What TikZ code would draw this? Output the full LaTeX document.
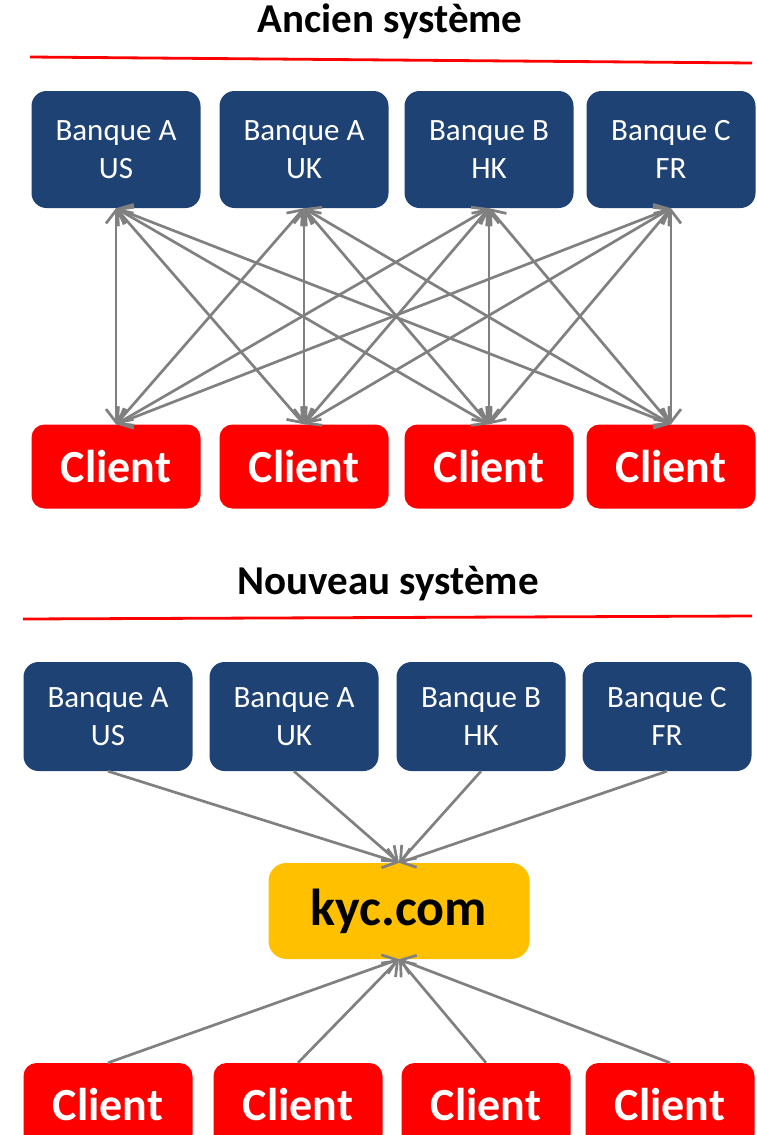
\documentclass[tikz,border=0pt]{standalone}
\usepackage{fontspec}
\setmainfont{Carlito}
\usepackage{xcolor}
\usepackage{tikz}
\usetikzlibrary{arrows.meta,positioning}

\definecolor{banknavy}{RGB}{30,66,116}
\definecolor{clientred}{RGB}{255,0,0}
\definecolor{kycgold}{RGB}{255,192,0}
\definecolor{linkgray}{RGB}{128,128,128}

\begin{document}
\begin{tikzpicture}[
  x=1pt, y=-1pt,
  bank/.style={fill=banknavy, rounded corners=15pt, minimum width=169pt,
    minimum height=117pt, inner sep=0pt, text=white, align=center,
    font=\fontsize{31}{38}\selectfont},
  client/.style={fill=clientred, rounded corners=13pt, minimum width=169pt,
    minimum height=84pt, inner sep=0pt, text=white,
    font=\fontsize{46}{50}\selectfont\bfseries},
  hub/.style={fill=kycgold, rounded corners=18pt, minimum width=261pt,
    minimum height=96pt, inner sep=0pt, font=\fontsize{52}{56}\selectfont\bfseries},
  title/.style={font=\fontsize{41}{44}\selectfont\bfseries},
  rule/.style={red, line width=2.8pt},
  link/.style={linkgray, line width=2.7pt, -{Straight Barb[length=13pt,width=20pt]}},
  dlink/.style={link, {Straight Barb[length=13pt,width=20pt]}-{Straight Barb[length=13pt,width=20pt]}}
]
\useasboundingbox (0,0) rectangle (756,1135);

% Ancien systeme
\node[title] (T1) at (390,21) {Ancien système};
\draw[rule] (30,57) -- (752,63);
\node[bank] (OB1) at (116,149.5) {Banque A\\US};
\node[bank] (OB2) at (304,149.5) {Banque A\\UK};
\node[bank] (OB3) at (489,149.5) {Banque B\\HK};
\node[bank] (OB4) at (671,149.5) {Banque C\\FR};
\node[client] (OC1) at (116,466.5) {Client};
\node[client] (OC2) at (304,466.5) {Client};
\node[client] (OC3) at (489,466.5) {Client};
\node[client] (OC4) at (671,466.5) {Client};
\foreach \b in {OB1,OB2,OB3,OB4}
  \foreach \c in {OC1,OC2,OC3,OC4}
    \draw[dlink] (\b.south) -- (\c.north);

% Nouveau systeme
\node[title] (T2) at (388,584) {Nouveau système};
\draw[rule] (23,619) -- (752,616);
\node[bank, minimum height=109pt] (NB1) at (108,716.5) {Banque A\\US};
\node[bank, minimum height=109pt] (NB2) at (294,716.5) {Banque A\\UK};
\node[bank, minimum height=109pt] (NB3) at (481,716.5) {Banque B\\HK};
\node[bank, minimum height=109pt] (NB4) at (667,716.5) {Banque C\\FR};
\node[hub] (K) at (399,911) {kyc.com};
\node[client] (NC1) at (108,1105) {Client};
\node[client] (NC2) at (298,1105) {Client};
\node[client] (NC3) at (486,1105) {Client};
\node[client] (NC4) at (670,1105) {Client};
\foreach \b in {NB1,NB2,NB3,NB4}
  \draw[link] (\b.south) -- (K.north);
\foreach \c in {NC1,NC2,NC3,NC4}
  \draw[link] (\c.north) -- (K.south);
\end{tikzpicture}
\end{document}
